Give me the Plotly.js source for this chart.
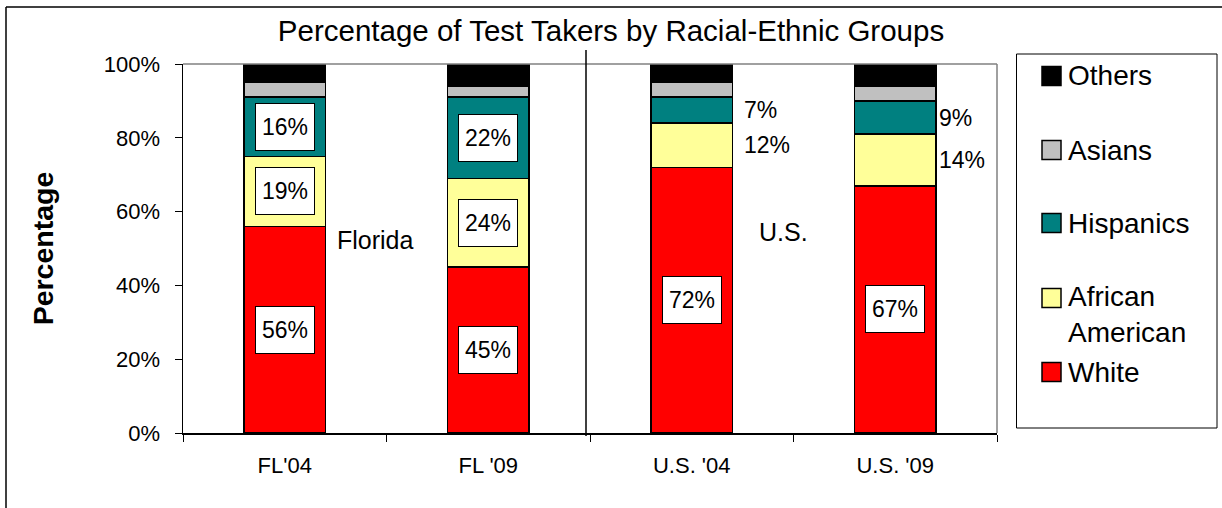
<!DOCTYPE html>
<html>
<head>
<meta charset="utf-8">
<script src="https://cdn.plot.ly/plotly-3.0.1.min.js"></script>
<style>
  html, body { margin: 0; padding: 0; background: #ffffff; }
  #chart { width: 1222px; height: 508px; }
</style>
</head>
<body>
<div id="chart"></div>
<script>
// ---- data ----
const categories = ["FL'04", "FL '09", "U.S. '04", "U.S. '09"];
const white = [56, 45, 72, 67];
const africanAmerican = [19, 24, 12, 14];
const hispanics = [16, 22, 7, 9];
const asians = [4, 3, 4, 4];
const others = [5, 6, 5, 6];

const seriesNames = ["White", "African American", "Hispanics", "Asians", "Others"];
const seriesColors = ["#FF0000", "#FFFF99", "#008080", "#C0C0C0", "#000000"];
const seriesValues = [white, africanAmerican, hispanics, asians, others];

const yTickVals = [0, 20, 40, 60, 80, 100];
const yTickText = ["0%", "20%", "40%", "60%", "80%", "100%"];

// which segments carry a value label, and how: "box" = boxed inside bar, "out" = beside bar
const labelStyles = [
  ["box", "box", "box", "box"],   // White
  ["box", "box", "out", "out"],   // African American
  ["box", "box", "out", "out"],   // Hispanics
  null, null
];
const groupNotes = ["Florida", "U.S."];

// ---- layout geometry ----
const FONT = "Liberation Sans, Arial, sans-serif";
const M = { l: 183, r: 225, t: 64, b: 75 };
const FW = 1222, FH = 508;
const PW = FW - M.l - M.r, PH = FH - M.t - M.b;
const px2x = px => (px - M.l) / PW;
const py2y = py => (M.t + PH - py) / PH;

// ---- traces ----
const traces = seriesNames.map((name, s) => ({
  type: "bar",
  name: name,
  x: categories,
  y: seriesValues[s],
  marker: { color: seriesColors[s], line: { color: "#000000", width: 1.5 } },
  showlegend: false,
  hoverinfo: "x+y+name"
}));

// ---- annotations ----
const annotations = [];
const outShift = [0, 0, 50, 42];
categories.forEach((cat, i) => {
  let base = 0;
  seriesValues.forEach((vals, s) => {
    const v = vals[i];
    const st = labelStyles[s] ? labelStyles[s][i] : null;
    if (st === "box") {
      annotations.push({
        x: cat, y: base + v / 2, xref: "x", yref: "y",
        text: v + "%", showarrow: false,
        font: { family: FONT, size: 23, color: "#000" },
        bgcolor: "#ffffff", bordercolor: "#000000", borderwidth: 1,
        borderpad: 1.5, width: 55, height: 43,
        xanchor: "center", yanchor: "middle"
      });
    } else if (st === "out") {
      annotations.push({
        x: cat, y: base + v / 2, xref: "x", yref: "y",
        text: v + "%", showarrow: false,
        font: { family: FONT, size: 23, color: "#000" },
        xanchor: "left", yanchor: "middle", xshift: outShift[i]
      });
    }
    base += v;
  });
});

// group notes
annotations.push({
  x: px2x(375), y: py2y(240), xref: "paper", yref: "paper",
  text: groupNotes[0], showarrow: false,
  font: { family: FONT, size: 25, color: "#000" }, xanchor: "center", yanchor: "middle"
});
annotations.push({
  x: px2x(783), y: py2y(232), xref: "paper", yref: "paper",
  text: groupNotes[1], showarrow: false,
  font: { family: FONT, size: 25, color: "#000" }, xanchor: "center", yanchor: "middle"
});

// ---- shapes ----
const shapes = [
  // plot area gray border (top and right)
  { type: "line", xref: "paper", yref: "paper", x0: 0, x1: 1, y0: 1, y1: 1, line: { color: "#808080", width: 1.5 } },
  { type: "line", xref: "paper", yref: "paper", x0: 1, x1: 1, y0: 0, y1: 1, line: { color: "#808080", width: 1.5 } },
  // separator between Florida and U.S.
  { type: "line", xref: "paper", yref: "paper", x0: px2x(586), x1: px2x(586), y0: py2y(50), y1: py2y(436), line: { color: "#000000", width: 1.5 } },
  // outer chart frame (left and top)
  { type: "line", xref: "paper", yref: "paper", x0: px2x(6), x1: px2x(6), y0: py2y(7), y1: py2y(520), line: { color: "#000000", width: 1.5 } },
  { type: "line", xref: "paper", yref: "paper", x0: px2x(6), x1: px2x(1240), y0: py2y(7), y1: py2y(7), line: { color: "#000000", width: 1.5 } },
  // legend box
  { type: "rect", xref: "paper", yref: "paper", x0: px2x(1016.5), x1: px2x(1217), y0: py2y(428), y1: py2y(54), line: { color: "#000000", width: 1 }, fillcolor: "rgba(0,0,0,0)" }
];

// manual legend (top to bottom: reverse stacking order)
const legendCenters = [76, 150, 223, 298, 372];
const legendOrder = [4, 3, 2, 1, 0];
legendOrder.forEach((s, k) => {
  const cy = legendCenters[k];
  shapes.push({
    type: "rect", xref: "paper", yref: "paper",
    x0: px2x(1042), x1: px2x(1061), y0: py2y(cy + 9.5), y1: py2y(cy - 9.5),
    fillcolor: seriesColors[s], line: { color: "#000000", width: 1.5 }
  });
  const twoLine = seriesNames[s].indexOf(" ") > 0;
  annotations.push({
    x: px2x(1066), y: py2y(twoLine ? cy + 16 : cy), xref: "paper", yref: "paper",
    text: twoLine ? seriesNames[s].replace(" ", "<br>") : seriesNames[s],
    showarrow: false, align: "left",
    font: { family: FONT, size: 28, color: "#000" },
    xanchor: "left", yanchor: "middle"
  });
});

const layout = {
  width: FW, height: FH,
  margin: M,
  paper_bgcolor: "#ffffff", plot_bgcolor: "#ffffff",
  barmode: "stack", bargap: 0.6,
  showlegend: false,
  font: { family: FONT, color: "#000000" },
  title: {
    text: "Percentage of Test Takers by Racial-Ethnic Groups",
    font: { family: FONT, size: 29.5, color: "#000" },
    xref: "container", x: 0.5, xanchor: "center",
    yref: "container", y: 1 - 31 / FH, yanchor: "middle"
  },
  xaxis: {
    type: "category",
    showline: true, linecolor: "#000000", linewidth: 1.5,
    ticks: "outside", tickson: "boundaries", ticklen: 7, tickcolor: "#000", tickwidth: 1,
    tickfont: { family: FONT, size: 22, color: "#000" },
    ticklabelstandoff: 12,
    showgrid: false, zeroline: false, fixedrange: true
  },
  yaxis: {
    range: [0, 100],
    tickvals: yTickVals, ticktext: yTickText,
    showline: true, linecolor: "#000000", linewidth: 1.5,
    ticks: "outside", ticklen: 7, tickcolor: "#000", tickwidth: 1,
    tickfont: { family: FONT, size: 22, color: "#000" },
    ticklabelstandoff: 10,
    showgrid: false, zeroline: false, fixedrange: true,
    title: { text: "<b>Percentage</b>", font: { family: FONT, size: 28.5, color: "#000" }, standoff: 42 }
  },
  annotations: annotations,
  shapes: shapes
};

Plotly.newPlot("chart", traces, layout, { displayModeBar: false, staticPlot: true });
</script>
</body>
</html>
